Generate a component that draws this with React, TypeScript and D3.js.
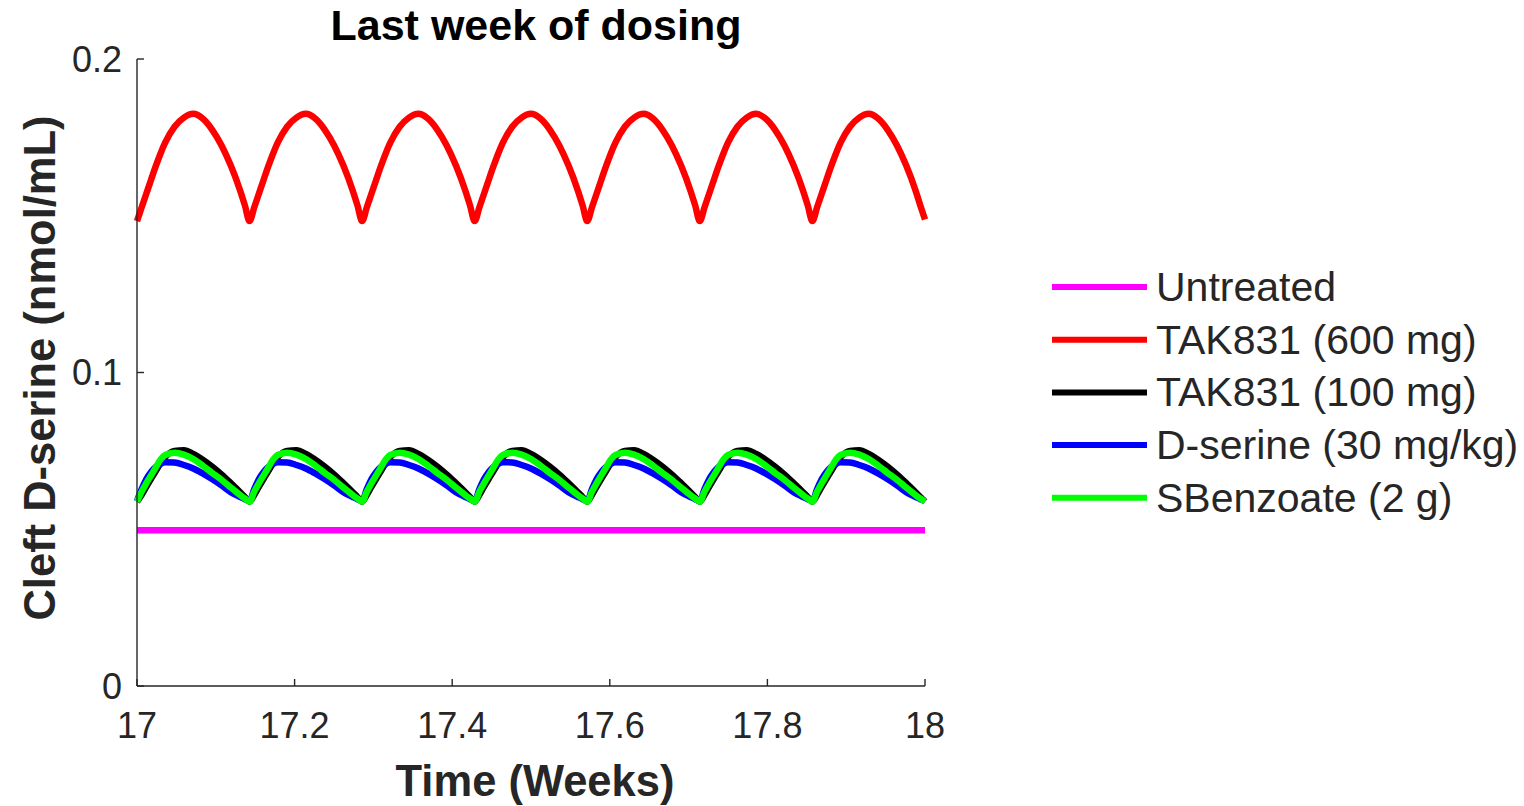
import React from "react";
import * as d3 from "d3";

// Simulated cleft D-serine over the final week of once-daily dosing.
// Time is in hours from the start of week 17.
const hours = [
  0, 1, 2, 3, 4, 5, 6, 8, 10, 12, 14, 16, 18, 20, 22, 23,
  24, 25, 26, 27, 28, 29, 30, 32, 34, 36, 38, 40, 42, 44, 46, 47,
  48, 49, 50, 51, 52, 53, 54, 56, 58, 60, 62, 64, 66, 68, 70, 71,
  72, 73, 74, 75, 76, 77, 78, 80, 82, 84, 86, 88, 90, 92, 94, 95,
  96, 97, 98, 99, 100, 101, 102, 104, 106, 108, 110, 112, 114, 116, 118, 119,
  120, 121, 122, 123, 124, 125, 126, 128, 130, 132, 134, 136, 138, 140, 142, 143,
  144, 145, 146, 147, 148, 149, 150, 152, 154, 156, 158, 160, 162, 164, 166, 167,
  168,
];

const untreated = hours.map(() => 0.0497);

const tak600 = [
  0.1483, 0.1527, 0.1571, 0.1615, 0.1658, 0.1698, 0.1733, 0.1784, 0.1813, 0.1825, 0.181, 0.1775, 0.1725, 0.166, 0.158, 0.1533,
  0.1483, 0.1527, 0.1571, 0.1615, 0.1658, 0.1698, 0.1733, 0.1784, 0.1813, 0.1825, 0.181, 0.1775, 0.1725, 0.166, 0.158, 0.1533,
  0.1483, 0.1527, 0.1571, 0.1615, 0.1658, 0.1698, 0.1733, 0.1784, 0.1813, 0.1825, 0.181, 0.1775, 0.1725, 0.166, 0.158, 0.1533,
  0.1483, 0.1527, 0.1571, 0.1615, 0.1658, 0.1698, 0.1733, 0.1784, 0.1813, 0.1825, 0.181, 0.1775, 0.1725, 0.166, 0.158, 0.1533,
  0.1483, 0.1527, 0.1571, 0.1615, 0.1658, 0.1698, 0.1733, 0.1784, 0.1813, 0.1825, 0.181, 0.1775, 0.1725, 0.166, 0.158, 0.1533,
  0.1483, 0.1527, 0.1571, 0.1615, 0.1658, 0.1698, 0.1733, 0.1784, 0.1813, 0.1825, 0.181, 0.1775, 0.1725, 0.166, 0.158, 0.1533,
  0.1483, 0.1527, 0.1571, 0.1615, 0.1658, 0.1698, 0.1733, 0.1784, 0.1813, 0.1825, 0.181, 0.1775, 0.1725, 0.166, 0.158, 0.1533,
  0.1488,
];

const tak100 = [
  0.0588, 0.061, 0.0636, 0.0661, 0.0686, 0.071, 0.073, 0.075, 0.0752, 0.074, 0.0722, 0.07, 0.0675, 0.0647, 0.0618, 0.0603,
  0.0588, 0.061, 0.0636, 0.0661, 0.0686, 0.071, 0.073, 0.075, 0.0752, 0.074, 0.0722, 0.07, 0.0675, 0.0647, 0.0618, 0.0603,
  0.0588, 0.061, 0.0636, 0.0661, 0.0686, 0.071, 0.073, 0.075, 0.0752, 0.074, 0.0722, 0.07, 0.0675, 0.0647, 0.0618, 0.0603,
  0.0588, 0.061, 0.0636, 0.0661, 0.0686, 0.071, 0.073, 0.075, 0.0752, 0.074, 0.0722, 0.07, 0.0675, 0.0647, 0.0618, 0.0603,
  0.0588, 0.061, 0.0636, 0.0661, 0.0686, 0.071, 0.073, 0.075, 0.0752, 0.074, 0.0722, 0.07, 0.0675, 0.0647, 0.0618, 0.0603,
  0.0588, 0.061, 0.0636, 0.0661, 0.0686, 0.071, 0.073, 0.075, 0.0752, 0.074, 0.0722, 0.07, 0.0675, 0.0647, 0.0618, 0.0603,
  0.0588, 0.061, 0.0636, 0.0661, 0.0686, 0.071, 0.073, 0.075, 0.0752, 0.074, 0.0722, 0.07, 0.0675, 0.0647, 0.0618, 0.0603,
  0.0588,
];

const dserine = [
  0.059, 0.0628, 0.066, 0.0683, 0.0699, 0.0709, 0.0714, 0.0713, 0.0705, 0.0694, 0.0678, 0.066, 0.064, 0.0618, 0.0603, 0.0596,
  0.059, 0.0628, 0.066, 0.0683, 0.0699, 0.0709, 0.0714, 0.0713, 0.0705, 0.0694, 0.0678, 0.066, 0.064, 0.0618, 0.0603, 0.0596,
  0.059, 0.0628, 0.066, 0.0683, 0.0699, 0.0709, 0.0714, 0.0713, 0.0705, 0.0694, 0.0678, 0.066, 0.064, 0.0618, 0.0603, 0.0596,
  0.059, 0.0628, 0.066, 0.0683, 0.0699, 0.0709, 0.0714, 0.0713, 0.0705, 0.0694, 0.0678, 0.066, 0.064, 0.0618, 0.0603, 0.0596,
  0.059, 0.0628, 0.066, 0.0683, 0.0699, 0.0709, 0.0714, 0.0713, 0.0705, 0.0694, 0.0678, 0.066, 0.064, 0.0618, 0.0603, 0.0596,
  0.059, 0.0628, 0.066, 0.0683, 0.0699, 0.0709, 0.0714, 0.0713, 0.0705, 0.0694, 0.0678, 0.066, 0.064, 0.0618, 0.0603, 0.0596,
  0.059, 0.0628, 0.066, 0.0683, 0.0699, 0.0709, 0.0714, 0.0713, 0.0705, 0.0694, 0.0678, 0.066, 0.064, 0.0618, 0.0603, 0.0596,
  0.059,
];

const sbenzoate = [
  0.0588, 0.062, 0.0647, 0.0672, 0.0697, 0.0722, 0.0737, 0.0744, 0.0738, 0.0724, 0.0703, 0.068, 0.0658, 0.0633, 0.0609, 0.0598,
  0.0588, 0.062, 0.0647, 0.0672, 0.0697, 0.0722, 0.0737, 0.0744, 0.0738, 0.0724, 0.0703, 0.068, 0.0658, 0.0633, 0.0609, 0.0598,
  0.0588, 0.062, 0.0647, 0.0672, 0.0697, 0.0722, 0.0737, 0.0744, 0.0738, 0.0724, 0.0703, 0.068, 0.0658, 0.0633, 0.0609, 0.0598,
  0.0588, 0.062, 0.0647, 0.0672, 0.0697, 0.0722, 0.0737, 0.0744, 0.0738, 0.0724, 0.0703, 0.068, 0.0658, 0.0633, 0.0609, 0.0598,
  0.0588, 0.062, 0.0647, 0.0672, 0.0697, 0.0722, 0.0737, 0.0744, 0.0738, 0.0724, 0.0703, 0.068, 0.0658, 0.0633, 0.0609, 0.0598,
  0.0588, 0.062, 0.0647, 0.0672, 0.0697, 0.0722, 0.0737, 0.0744, 0.0738, 0.0724, 0.0703, 0.068, 0.0658, 0.0633, 0.0609, 0.0598,
  0.0588, 0.062, 0.0647, 0.0672, 0.0697, 0.0722, 0.0737, 0.0744, 0.0738, 0.0724, 0.0703, 0.068, 0.0658, 0.0633, 0.0609, 0.0598,
  0.0588,
];

const seriesNames = [
  "Untreated",
  "TAK831 (600 mg)",
  "TAK831 (100 mg)",
  "D-serine (30 mg/kg)",
  "SBenzoate (2 g)",
];
const seriesColors = ["#ff00ff", "#ff0000", "#000000", "#0000ff", "#00ff00"];
const seriesValues = [untreated, tak600, tak100, dserine, sbenzoate];

const xTicks = [17, 17.2, 17.4, 17.6, 17.8, 18];
const yTicks = [0, 0.1, 0.2];

const startWeek = 17;
const hoursPerWeek = 168;

const W = 1524;
const H = 806;
const plot = { left: 137, right: 925, top: 59, bottom: 686 };
const axisColor = "#262626";
const font = "'Liberation Sans', Arial, Helvetica, sans-serif";

export default function App() {
  const x = d3.scaleLinear().domain([17, 18]).range([plot.left, plot.right]);
  const y = d3.scaleLinear().domain([0, 0.2]).range([plot.bottom, plot.top]);

  const line = d3
    .line<number>()
    .x((_, i) => x(startWeek + hours[i] / hoursPerWeek))
    .y((v) => y(v))
    .curve(d3.curveMonotoneX);

  const legendX0 = 1052;
  const legendX1 = 1147;
  const legendY0 = 287;
  const legendStep = 52.7;

  return (
    <svg
      width={W}
      height={H}
      style={{ position: "absolute", left: 0, top: 0, background: "#fff" }}
      fontFamily={font}
    >
      <rect width={W} height={H} fill="#fff" />

      {/* data lines */}
      {seriesValues.map((vals, i) => (
        <path
          key={seriesNames[i]}
          d={line(vals) ?? ""}
          fill="none"
          stroke={seriesColors[i]}
          strokeWidth={6.5}
          strokeLinejoin="round"
          strokeLinecap="butt"
        />
      ))}

      {/* axes */}
      <g stroke={axisColor} strokeWidth={1.4} fill="none">
        <line x1={plot.left} x2={plot.right} y1={plot.bottom} y2={plot.bottom} />
        <line x1={plot.left} x2={plot.left} y1={plot.top} y2={plot.bottom} />
        {xTicks.map((t) => (
          <line key={"xt" + t} x1={x(t)} x2={x(t)} y1={plot.bottom} y2={plot.bottom - 7} />
        ))}
        {yTicks.map((t) => (
          <line key={"yt" + t} x1={plot.left} x2={plot.left + 7} y1={y(t)} y2={y(t)} />
        ))}
      </g>

      <g fill={axisColor} fontSize={36}>
        {xTicks.map((t) => (
          <text key={"xl" + t} x={x(t)} y={738} textAnchor="middle">
            {d3.format("~g")(t)}
          </text>
        ))}
        {yTicks.map((t) => (
          <text
            key={"yl" + t}
            x={plot.left - 15}
            y={y(t)}
            textAnchor="end"
            dominantBaseline="central"
          >
            {d3.format("~g")(t)}
          </text>
        ))}
      </g>

      {/* titles */}
      <text x={536} y={40} textAnchor="middle" fontSize={43} fontWeight="bold" fill="#000">
        Last week of dosing
      </text>
      <text x={535} y={796} textAnchor="middle" fontSize={43.5} fontWeight="bold" fill={axisColor}>
        Time (Weeks)
      </text>
      <text
        transform={`translate(40, 368) rotate(-90)`}
        textAnchor="middle"
        dominantBaseline="central"
        fontSize={43.5}
        fontWeight="bold"
        fill={axisColor}
      >
        Cleft D-serine (nmol/mL)
      </text>

      {/* legend */}
      {seriesNames.map((name, i) => {
        const ly = legendY0 + i * legendStep;
        return (
          <g key={"lg" + name}>
            <line
              x1={legendX0}
              x2={legendX1}
              y1={ly}
              y2={ly}
              stroke={seriesColors[i]}
              strokeWidth={6}
            />
            <text
              x={1156}
              y={ly}
              dominantBaseline="central"
              fontSize={41}
              fill={axisColor}
            >
              {name}
            </text>
          </g>
        );
      })}
    </svg>
  );
}
